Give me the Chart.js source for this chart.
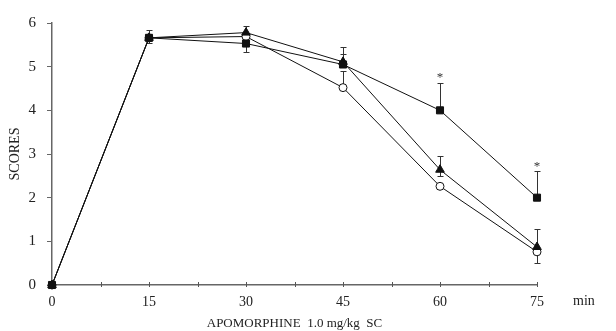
<!DOCTYPE html>
<html><head><meta charset="utf-8">
<script src="https://cdn.jsdelivr.net/npm/chart.js@4/dist/chart.umd.min.js"></script>
<style>html,body{margin:0;padding:0;background:#fff}#w{width:616px;height:331px;position:relative}</style>
</head><body><div id="w"><canvas id="c"></canvas></div>
<script>
const times = [0, 15, 30, 45, 60, 75];
const xTickLabels = ['0', '15', '30', '45', '60', '75'];
const squareScores = [0, 5.66, 5.53, 5.05, 4.0, 2.0];
const squareErrUp = [0, 0.17, 0, 0.23, 0.63, 0.6];
const squareErrDown = [0, 0.11, 0.19, 0, 0, 0];
const triangleScores = [0, 5.66, 5.78, 5.11, 2.64, 0.87];
const triangleErrUp = [0, 0, 0.14, 0.35, 0.32, 0.41];
const triangleErrDown = [0, 0, 0, 0, 0.14, 0];
const circleScores = [0, 5.66, 5.69, 4.52, 2.26, 0.76];
const circleErrUp = [0, 0, 0, 0.37, 0, 0];
const circleErrDown = [0, 0, 0, 0, 0, 0.26];
const significance = ['', '', '', '', '*', '*'];
const yTitle = 'SCORES';
const xTitle = 'APOMORPHINE  1.0 mg/kg  SC';
const unitLabel = 'min';

const FONT = '"Liberation Serif", "Times New Roman", serif';
const pts = v => v.map((y, i) => ({x: times[i], y}));

const series = [
  {vals: squareScores, up: squareErrUp, down: squareErrDown},
  {vals: triangleScores, up: triangleErrUp, down: triangleErrDown},
  {vals: circleScores, up: circleErrUp, down: circleErrDown}
];

const extras = {
  id: 'extras',
  beforeDatasetsDraw(chart) {
    const ctx = chart.ctx, xs = chart.scales.x, ys = chart.scales.y;
    ctx.save();
    ctx.strokeStyle = '#333';
    ctx.lineWidth = 1;
    series.forEach(s => {
      s.vals.forEach((v, i) => {
        const px = Math.round(xs.getPixelForValue(times[i])) + 0.5;
        [[s.up[i], 1], [s.down[i], -1]].forEach(([e, d]) => {
          if (!e) return;
          const y0 = ys.getPixelForValue(v), y1 = Math.round(ys.getPixelForValue(v + d * e)) + 0.5;
          ctx.beginPath();
          ctx.moveTo(px, y0); ctx.lineTo(px, y1);
          ctx.moveTo(px - 3, y1); ctx.lineTo(px + 3, y1);
          ctx.stroke();
        });
      });
    });
    ctx.restore();
  },
  afterDatasetsDraw(chart) {
    const ctx = chart.ctx, xs = chart.scales.x, ys = chart.scales.y;
    ctx.save();
    ctx.lineWidth = 1;
    // significance marks
    ctx.fillStyle = '#333';
    ctx.font = '13px ' + FONT;
    ctx.textAlign = 'center';
    ctx.textBaseline = 'middle';
    significance.forEach((t, i) => {
      if (!t) return;
      const top = squareScores[i] + squareErrUp[i];
      ctx.fillText(t, xs.getPixelForValue(times[i]), ys.getPixelForValue(top) - 5);
    });
    // x-axis ticks crossing the axis line, every 7.5
    ctx.strokeStyle = '#555';
    for (let t = 7.5; t <= 75; t += 7.5) {
      const px = Math.round(xs.getPixelForValue(t)) + 0.5;
      const py = ys.getPixelForValue(0);
      ctx.beginPath(); ctx.moveTo(px, py - 3); ctx.lineTo(px, py + 2); ctx.stroke();
    }
    // unit label
    ctx.fillStyle = '#222';
    ctx.font = '14px ' + FONT;
    ctx.textAlign = 'left';
    ctx.fillText(unitLabel, xs.getPixelForValue(75) + 36, ys.getPixelForValue(0) + 16);
    ctx.restore();
  }
};

const common = {borderColor: '#111', borderWidth: 1, pointBorderWidth: 1, pointBorderColor: '#111', clip: false};

new Chart(document.getElementById('c'), {
  type: 'line',
  data: {
    datasets: [
      Object.assign({data: pts(squareScores), pointStyle: 'rect', pointRadius: 5, backgroundColor: '#111', pointBackgroundColor: '#111'}, common),
      Object.assign({data: pts(triangleScores), pointStyle: 'triangle', pointRadius: 5, backgroundColor: '#111', pointBackgroundColor: '#111'}, common),
      Object.assign({data: pts(circleScores), pointStyle: 'circle', pointRadius: 4, backgroundColor: '#fff', pointBackgroundColor: '#fff'}, common)
    ]
  },
  options: {
    responsive: true, maintainAspectRatio: false, animation: false,
    layout: {padding: {top: 23, right: 79, left: 0, bottom: 0}},
    plugins: {legend: {display: false}, tooltip: {enabled: false}},
    elements: {line: {tension: 0}},
    scales: {
      x: {
        type: 'linear', min: 0, max: 75,
        afterFit: s => { s.height = 46; },
        afterBuildTicks: s => { s.ticks = times.map(v => ({value: v})); },
        border: {color: '#666', width: 1.5},
        grid: {display: false, drawTicks: false},
        ticks: {padding: 9, color: '#222', font: {family: FONT, size: 14}, maxRotation: 0,
          callback: (v) => { const i = times.indexOf(v); return i >= 0 ? xTickLabels[i] : ''; }},
        title: {display: true, text: xTitle, color: '#222', font: {family: FONT, size: 13}, padding: {top: 2, bottom: 0}}
      },
      y: {
        min: 0, max: 6,
        afterFit: s => { s.width = 52; },
        border: {color: '#666', width: 1.5},
        grid: {drawOnChartArea: false, tickLength: 5, color: '#666'},
        ticks: {stepSize: 1, padding: 11, color: '#222', font: {family: FONT, size: 15}},
        title: {display: true, text: yTitle, color: '#222', font: {family: FONT, size: 14}, padding: {top: 7, bottom: 0}}
      }
    }
  },
  plugins: [extras]
});
</script></body></html>
